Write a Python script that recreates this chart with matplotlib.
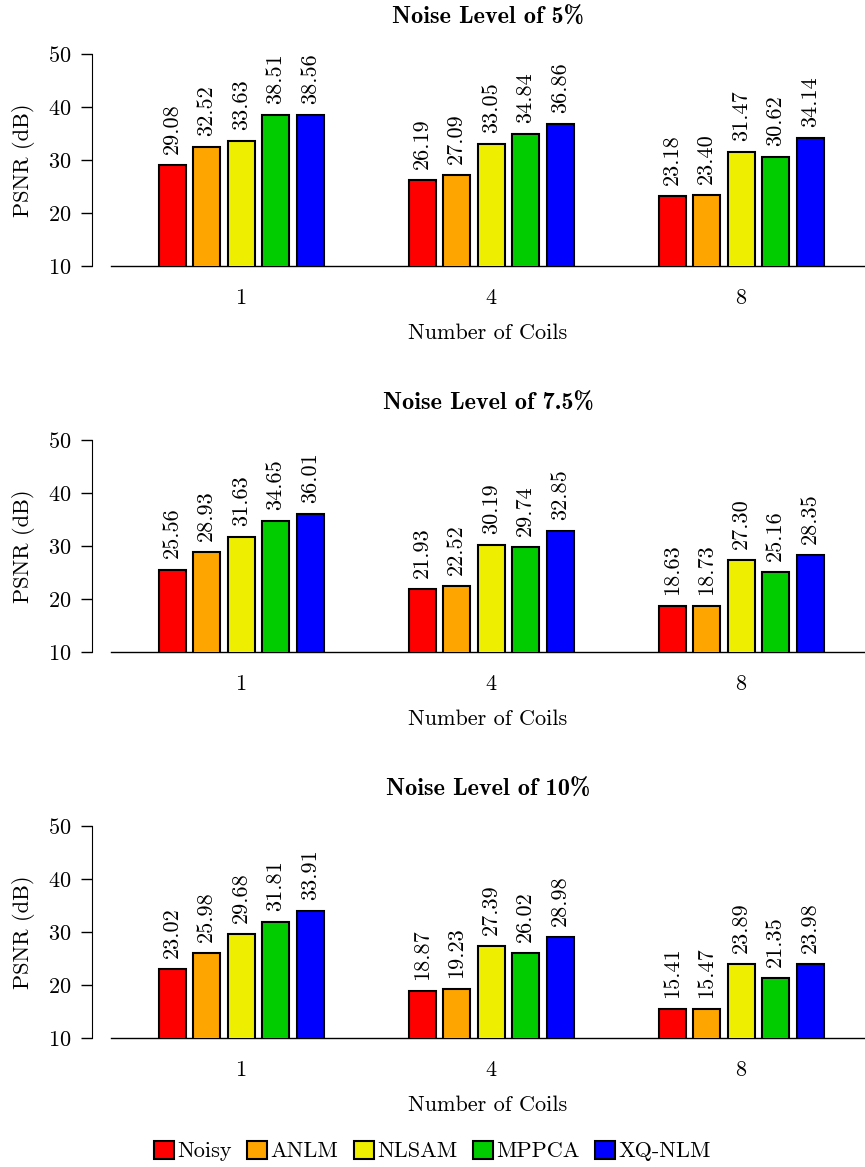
import matplotlib
matplotlib.use("Agg")
import matplotlib.pyplot as plt
import numpy as np
from matplotlib.patches import Patch

plt.rcParams['font.family'] = ['cmr10', 'DejaVu Serif']
plt.rcParams['axes.formatter.use_mathtext'] = True
plt.rcParams['mathtext.fontset'] = 'cm'

# Data
coils = ["1", "4", "8"]
methods = ["Noisy", "ANLM", "NLSAM", "MPPCA", "XQ-NLM"]
colors = ["#ff0000", "#ffa500", "#eeee00", "#00cc00", "#0000ff"]
titles = ["Noise Level of 5%", "Noise Level of 7.5%", "Noise Level of 10%"]

psnr_5 = [
    [29.08, 26.19, 23.18],   # Noisy
    [32.52, 27.09, 23.40],   # ANLM
    [33.63, 33.05, 31.47],   # NLSAM
    [38.51, 34.84, 30.62],   # MPPCA
    [38.56, 36.86, 34.14],   # XQ-NLM
]
psnr_75 = [
    [25.56, 21.93, 18.63],
    [28.93, 22.52, 18.73],
    [31.63, 30.19, 27.30],
    [34.65, 29.74, 25.16],
    [36.01, 32.85, 28.35],
]
psnr_10 = [
    [23.02, 18.87, 15.41],
    [25.98, 19.23, 15.47],
    [29.68, 27.39, 23.89],
    [31.81, 26.02, 21.35],
    [33.91, 28.98, 23.98],
]
panels = [psnr_5, psnr_75, psnr_10]

fig = plt.figure(figsize=(8.65, 11.67), dpi=100)

left = 111 / 865
width = 1 - left
height = 212 / 1167
bottoms = [1 - 266 / 1167, 1 - 652 / 1167, 1 - 1038 / 1167]

fs = 16
x = np.arange(len(coils))
step = 0.138
bw = 0.108

for data, title, b in zip(panels, titles, bottoms):
    ax = fig.add_axes([left, b, width, height])
    for i, (vals, c) in enumerate(zip(data, colors)):
        pos = x + (i - 2) * step
        bars = ax.bar(pos, vals, width=bw, bottom=0, color=c,
                      edgecolor="black", linewidth=1.5, zorder=3)
        for rect, v in zip(bars, vals):
            ax.annotate(f"{v:.2f}", (rect.get_x() + rect.get_width() / 2, v),
                        xytext=(0, 8), textcoords="offset points",
                        rotation=90, ha="center", va="bottom", fontsize=fs)
    ax.set_ylim(10, 50)
    ax.set_xlim(-0.52, 2.496)
    ax.set_yticks([10, 20, 30, 40, 50])
    ax.set_xticks(x)
    ax.set_xticklabels(coils)
    ax.tick_params(axis="x", length=0, pad=16, labelsize=fs)
    ax.tick_params(axis="y", length=8, width=1, labelsize=fs, pad=7)
    ax.spines["top"].set_visible(False)
    ax.spines["right"].set_visible(False)
    ax.spines["left"].set_position(("outward", 13.7))
    ax.spines["bottom"].set_linewidth(1)
    ax.set_ylabel("PSNR (dB)", fontsize=fs, labelpad=9)
    ax.set_xlabel("Number of Coils", fontsize=fs, labelpad=11)
    ax.set_title(title, fontsize=fs + 1.5, family=['cmb10', 'DejaVu Serif'],
                 fontweight="bold", pad=22)

handles = [Patch(facecolor=c, edgecolor="black", linewidth=1.5) for c in colors]
fig.legend(handles, methods, loc="center", bbox_to_anchor=(0.5, 1 - 1151 / 1167),
           ncol=5, frameon=False, fontsize=fs, handlelength=0.9, handleheight=0.9,
           handletextpad=0.15, columnspacing=0.7)

fig.savefig("out.png", dpi=100)
